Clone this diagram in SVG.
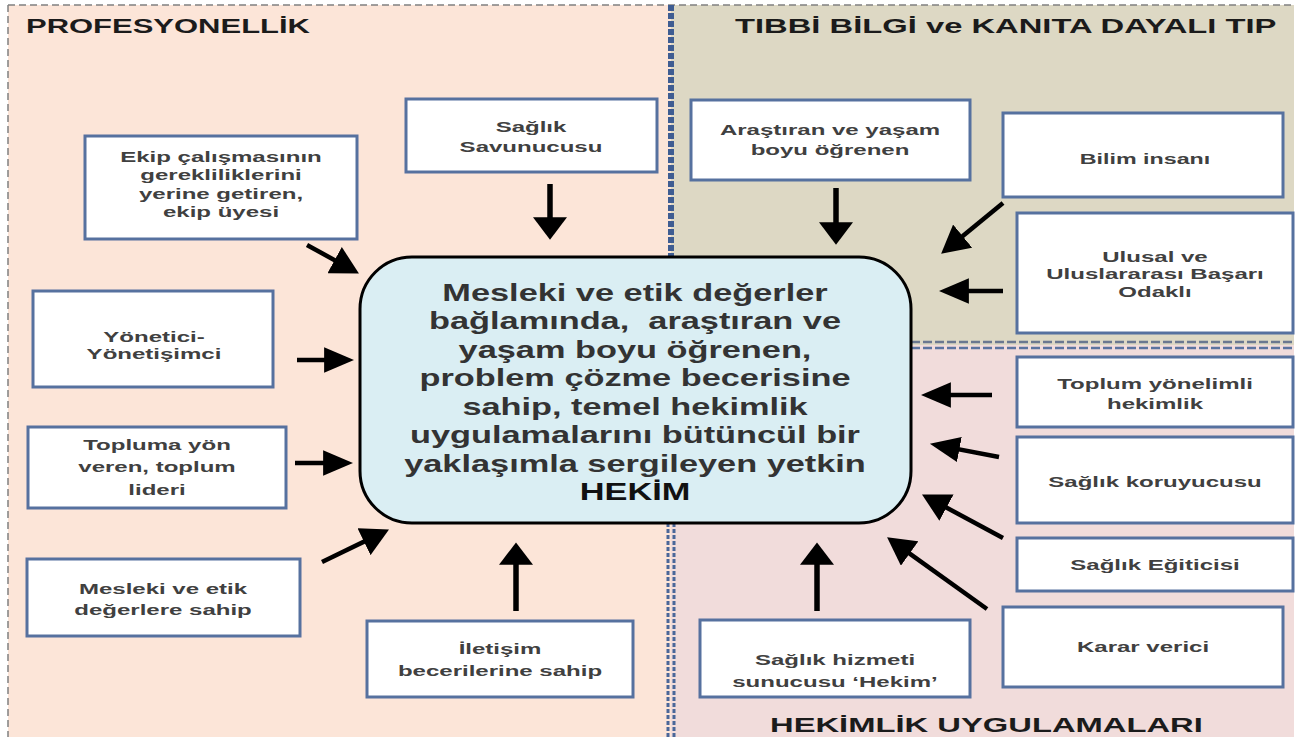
<svg xmlns="http://www.w3.org/2000/svg" width="1300" height="737" viewBox="0 0 1300 737">
<style>
.box{fill:#ffffff;stroke:#56719f;stroke-width:3}
.lbl{font-family:"Liberation Sans",Arial,sans-serif;font-weight:bold;font-size:15.5px;fill:#404040;text-anchor:middle}
.ctr{font-family:"Liberation Sans",Arial,sans-serif;font-weight:bold;font-size:24px;fill:#333333;text-anchor:middle}
.ttl{font-family:"Liberation Sans",Arial,sans-serif;font-weight:bold;font-size:19.5px;fill:#1b1b1b}
.arr{stroke:#000;stroke-width:4.5;fill:none}
.arrv{stroke:#000;stroke-width:5.5;fill:none}
.brd{stroke:#808080;stroke-width:1.5;stroke-dasharray:7 4;fill:none}
</style>
<defs>
<marker id="ahv" markerUnits="userSpaceOnUse" markerWidth="24" markerHeight="34" viewBox="0 0 21 32" refX="11" refY="16" orient="auto"><path d="M0,0 L21,16 L0,32 z" fill="#000"/></marker>
<marker id="ahh" markerUnits="userSpaceOnUse" markerWidth="30" markerHeight="26" viewBox="0 0 27 23" refX="17" refY="11.5" orient="auto"><path d="M0,0 L27,11.5 L0,23 z" fill="#000"/></marker>
<marker id="ahd" markerUnits="userSpaceOnUse" markerWidth="28" markerHeight="30" viewBox="0 0 25 27" refX="15" refY="13.5" orient="auto"><path d="M0,0 L25,13.5 L0,27 z" fill="#000"/></marker>
</defs>

<g id="panels">
<rect x="8" y="5" width="663" height="732" fill="#fce5d8"/>
<rect x="671" y="5" width="623" height="340" fill="#ddd8c4"/>
<rect x="671" y="345" width="623" height="392" fill="#f1dcdb"/>
<line class="brd" x1="8" y1="5" x2="1294" y2="5"/>
<line class="brd" x1="8" y1="5" x2="8" y2="737"/>
<line x1="671" y1="5" x2="671" y2="257" stroke="#3f5d92" stroke-width="6" stroke-dasharray="6 2"/>
<line x1="668" y1="523" x2="668" y2="737" stroke="#4a6799" stroke-width="3" stroke-dasharray="4 2"/>
<line x1="674" y1="523" x2="674" y2="737" stroke="#4a6799" stroke-width="3" stroke-dasharray="4 2"/>
<line x1="911" y1="342" x2="1294" y2="342" stroke="#6a7890" stroke-width="2.5" stroke-dasharray="9 3"/>
<line x1="911" y1="348" x2="1294" y2="348" stroke="#5b74a0" stroke-width="2.5" stroke-dasharray="9 3"/>
</g>

<g id="titles">
<text class="ttl" transform="translate(26 0) scale(1.59 1)" x="0" y="33">PROFESYONELLİK</text>
<text class="ttl" transform="translate(735 0) scale(1.68 1)" x="0" y="33">TIBBİ BİLGİ ve KANITA DAYALI TIP</text>
<text class="ttl" transform="translate(770 0) scale(1.68 1)" x="0" y="732">HEKİMLİK UYGULAMALARI</text>
</g>

<g id="center">
<rect x="360" y="257" width="551" height="266" rx="52" ry="52" fill="#daeef3" stroke="#000" stroke-width="3"/>
<text class="ctr" transform="translate(635 0) scale(1.43 1)" xml:space="preserve"><tspan x="0" y="301">Mesleki ve etik değerler</tspan><tspan x="0" y="329.5">bağlamında,  araştıran ve</tspan><tspan x="0" y="358">yaşam boyu öğrenen,</tspan><tspan x="0" y="386.5">problem çözme becerisine</tspan><tspan x="0" y="415">sahip, temel hekimlik</tspan><tspan x="0" y="443.5">uygulamalarını bütüncül bir</tspan><tspan x="0" y="472">yaklaşımla sergileyen yetkin</tspan><tspan x="0" y="500" fill="#111">HEKİM</tspan></text>
</g>

<g id="n-ekip">
<rect class="box" x="85" y="136" width="272" height="103"/>
<text class="lbl" transform="translate(221 0) scale(1.55 1)"><tspan x="0" y="162">Ekip çalışmasının</tspan><tspan x="0" y="180.5">gerekliliklerini</tspan><tspan x="0" y="199">yerine getiren,</tspan><tspan x="0" y="217.5">ekip üyesi</tspan></text>
</g>
<g id="n-savunucu">
<rect class="box" x="406" y="99" width="251" height="73"/>
<text class="lbl" transform="translate(531 0) scale(1.55 1)"><tspan x="0" y="132">Sağlık</tspan><tspan x="0" y="152">Savunucusu</tspan></text>
</g>
<g id="n-arastiran">
<rect class="box" x="691" y="100" width="279" height="80"/>
<text class="lbl" transform="translate(830 0) scale(1.55 1)"><tspan x="0" y="135">Araştıran ve yaşam</tspan><tspan x="0" y="155">boyu öğrenen</tspan></text>
</g>
<g id="n-bilim">
<rect class="box" x="1003" y="113" width="280" height="84"/>
<text class="lbl" transform="translate(1145 0) scale(1.5 1)"><tspan x="0" y="164">Bilim insanı</tspan></text>
</g>
<g id="n-ulusal">
<rect class="box" x="1017" y="213" width="276" height="120"/>
<text class="lbl" transform="translate(1155 0) scale(1.55 1)"><tspan x="0" y="262">Ulusal ve</tspan><tspan x="0" y="279.5">Uluslararası Başarı</tspan><tspan x="0" y="297">Odaklı</tspan></text>
</g>
<g id="n-yonetici">
<rect class="box" x="33" y="291" width="240" height="96"/>
<text class="lbl" transform="translate(154 0) scale(1.55 1)"><tspan x="0" y="342">Yönetici-</tspan><tspan x="0" y="359">Yönetişimci</tspan></text>
</g>
<g id="n-topluma">
<rect class="box" x="28" y="427" width="258" height="81"/>
<text class="lbl" transform="translate(157 0) scale(1.55 1)"><tspan x="0" y="450">Topluma yön</tspan><tspan x="0" y="472.5">veren, toplum</tspan><tspan x="0" y="495">lideri</tspan></text>
</g>
<g id="n-mesleki">
<rect class="box" x="27" y="559" width="273" height="77"/>
<text class="lbl" transform="translate(163 0) scale(1.55 1)"><tspan x="0" y="594">Mesleki ve etik</tspan><tspan x="0" y="615">değerlere sahip</tspan></text>
</g>
<g id="n-iletisim">
<rect class="box" x="367" y="621" width="266" height="76"/>
<text class="lbl" transform="translate(500 0) scale(1.55 1)"><tspan x="0" y="654">İletişim</tspan><tspan x="0" y="676">becerilerine sahip</tspan></text>
</g>
<g id="n-hizmet">
<rect class="box" x="700" y="620" width="270" height="77"/>
<text class="lbl" transform="translate(835 0) scale(1.55 1)"><tspan x="0" y="665.5">Sağlık hizmeti</tspan><tspan x="0" y="687">sunucusu ‘Hekim’</tspan></text>
</g>
<g id="n-toplum">
<rect class="box" x="1017" y="357" width="276" height="70"/>
<text class="lbl" transform="translate(1155 0) scale(1.55 1)"><tspan x="0" y="389">Toplum yönelimli</tspan><tspan x="0" y="409">hekimlik</tspan></text>
</g>
<g id="n-koruyucu">
<rect class="box" x="1017" y="437" width="276" height="86"/>
<text class="lbl" transform="translate(1155 0) scale(1.55 1)"><tspan x="0" y="487">Sağlık koruyucusu</tspan></text>
</g>
<g id="n-egitici">
<rect class="box" x="1017" y="538" width="276" height="53"/>
<text class="lbl" transform="translate(1155 0) scale(1.55 1)"><tspan x="0" y="570">Sağlık Eğiticisi</tspan></text>
</g>
<g id="n-karar">
<rect class="box" x="1003" y="607" width="280" height="80"/>
<text class="lbl" transform="translate(1143 0) scale(1.55 1)"><tspan x="0" y="652">Karar verici</tspan></text>
</g>

<g id="connectors">
<line class="arrv" x1="550" y1="184" x2="550" y2="229" marker-end="url(#ahv)"/>
<line class="arrv" x1="836" y1="188" x2="836" y2="234" marker-end="url(#ahv)"/>
<line class="arr" x1="307" y1="245" x2="349.2" y2="268.2" marker-end="url(#ahd)"/>
<line class="arr" x1="1003" y1="203" x2="949.7" y2="246.7" marker-end="url(#ahd)"/>
<line class="arr" x1="1003" y1="291" x2="950" y2="291" marker-end="url(#ahh)"/>
<line class="arr" x1="297" y1="360" x2="343" y2="360" marker-end="url(#ahh)"/>
<line class="arr" x1="295" y1="463" x2="342" y2="463" marker-end="url(#ahh)"/>
<line class="arr" x1="322" y1="562" x2="379" y2="534.4" marker-end="url(#ahd)"/>
<line class="arrv" x1="516" y1="611" x2="516" y2="553" marker-end="url(#ahv)"/>
<line class="arrv" x1="817" y1="611" x2="817" y2="553" marker-end="url(#ahv)"/>
<line class="arr" x1="992" y1="395" x2="932" y2="395" marker-end="url(#ahh)"/>
<line class="arr" x1="999" y1="457" x2="940.8" y2="445.9" marker-end="url(#ahh)"/>
<line class="arr" x1="1003" y1="538" x2="931.8" y2="499.7" marker-end="url(#ahd)"/>
<line class="arr" x1="987" y1="609" x2="896.1" y2="543.8" marker-end="url(#ahd)"/>
</g>
</svg>
